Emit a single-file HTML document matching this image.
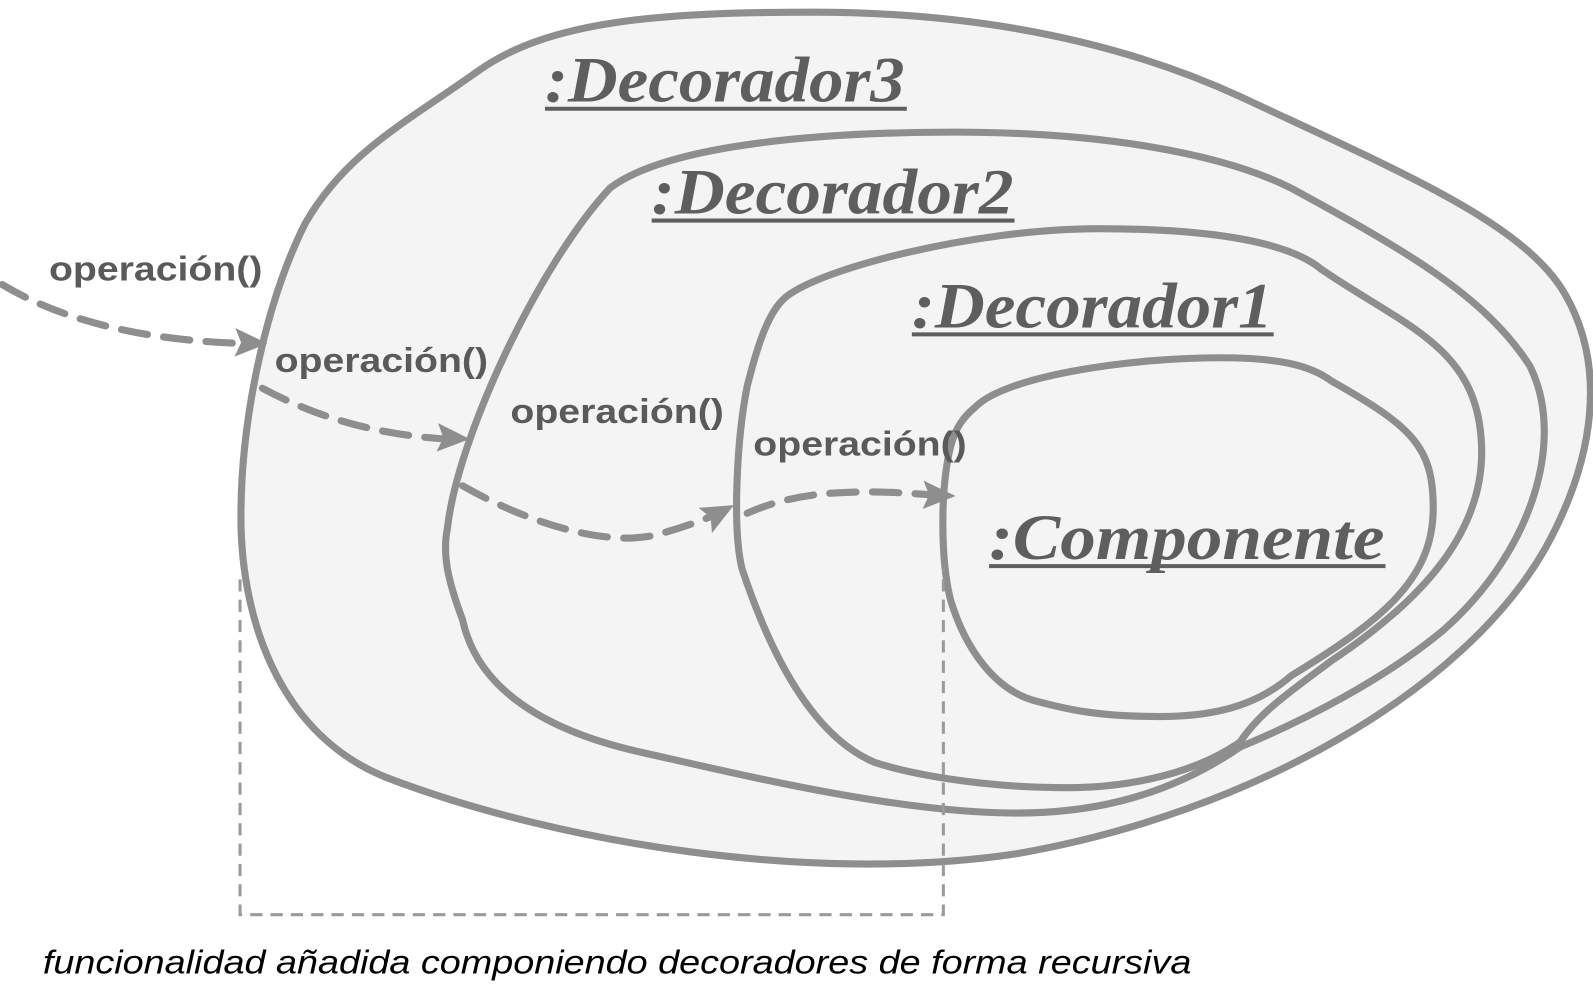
<!DOCTYPE html>
<html><head><meta charset="utf-8"><style>
html,body{margin:0;padding:0;background:#fff;width:1593px;height:995px;overflow:hidden}
svg{display:block}
.sh{fill:#f4f4f4;stroke:#8e8e8e;stroke-width:7}
.ar{fill:none;stroke:#8e8e8e;stroke-width:7;stroke-dasharray:26 16;stroke-linecap:round}
.lb{font-family:"Liberation Sans",sans-serif;font-size:34px;font-weight:bold;fill:#5a5a5a}
.tt{font-family:"Liberation Serif",serif;font-style:italic;font-weight:bold;font-size:64px;fill:#5e5e5e}
.ul{stroke:#5e5e5e;stroke-width:4}
.ah{fill:#8e8e8e}
</style></head><body>
<svg width="1593" height="995" viewBox="0 0 1567 979" xmlns="http://www.w3.org/2000/svg">
<path class="sh" d="M470,70 C540,20 650,12 800,12 C960,12 1100,40 1220,95 C1380,170 1500,220 1540,290 C1580,360 1570,450 1520,540 C1440,680 1230,800 1000,840 C800,870 550,830 380,765 C280,725 240,620 237,520 C235,420 260,300 300,220 C340,150 400,120 470,70 Z"/>
<path class="sh" d="M600,185 C660,140 820,130 940,130 C1080,130 1200,150 1270,185 C1380,245 1460,290 1505,360 C1540,430 1510,540 1420,620 C1360,670 1280,710 1220,735 C1140,790 1060,800 1000,800 C880,800 720,760 630,740 C540,720 470,680 455,610 C440,570 435,545 440,520 C450,430 530,260 600,185 Z"/>
<path class="sh" d="M770,295 C800,265 960,225 1080,225 C1200,225 1270,240 1300,265 C1380,320 1450,340 1457,430 C1465,520 1400,590 1310,650 C1270,680 1240,700 1220,730 C1170,765 1100,775 1050,775 C960,775 890,760 860,750 C790,720 750,620 730,560 C720,520 725,430 735,380 C745,340 755,310 770,295 Z"/>
<path class="sh" d="M960,400 C990,370 1110,352 1200,352 C1260,352 1290,360 1310,375 C1390,420 1410,440 1410,500 C1410,570 1360,610 1270,665 C1230,700 1180,705 1140,705 C1080,705 1050,698 1020,690 C980,680 950,640 935,590 C925,550 925,480 935,440 C940,420 948,410 960,400 Z"/>
<path d="M236,570 V900 H928 V560" fill="none" stroke="#9a9a9a" stroke-width="3" stroke-dasharray="12 8"/>
<path class="ar" d="M2,280 C60,315 140,335 240,338"/>
<path class="ar" d="M258,382 C310,410 370,428 440,432"/>
<path class="ar" d="M455,478 C520,515 600,540 650,525 C675,518 690,512 705,506"/>
<path class="ar" d="M735,505 C780,485 830,480 918,487"/>
<polygon class="ah" points="0,0 -32,-14 -26,0 -32,14" transform="translate(263,338) rotate(2)"/>
<polygon class="ah" points="0,0 -32,-14 -26,0 -32,14" transform="translate(462,432) rotate(3)"/>
<polygon class="ah" points="0,0 -32,-14 -26,0 -32,14" transform="translate(722,497) rotate(-28)"/>
<polygon class="ah" points="0,0 -32,-14 -26,0 -32,14" transform="translate(940,488) rotate(2)"/>
<text class="lb" x="48" y="276" textLength="210" lengthAdjust="spacingAndGlyphs">operación()</text>
<text class="lb" x="270" y="366" textLength="210" lengthAdjust="spacingAndGlyphs">operación()</text>
<text class="lb" x="502" y="416" textLength="210" lengthAdjust="spacingAndGlyphs">operación()</text>
<text class="lb" x="741" y="448" textLength="210" lengthAdjust="spacingAndGlyphs">operación()</text>
<text class="tt" x="536" y="100" textLength="354" lengthAdjust="spacingAndGlyphs">:Decorador3</text>
<line class="ul" x1="536" y1="107" x2="892" y2="107"/>
<text class="tt" x="641" y="210" textLength="356" lengthAdjust="spacingAndGlyphs">:Decorador2</text>
<line class="ul" x1="641" y1="217" x2="998" y2="217"/>
<text class="tt" x="897" y="322" textLength="355" lengthAdjust="spacingAndGlyphs">:Decorador1</text>
<line class="ul" x1="897" y1="329" x2="1253" y2="329"/>
<text class="tt" x="973" y="550" textLength="389" lengthAdjust="spacingAndGlyphs">:Componente</text>
<line class="ul" x1="973" y1="557" x2="1363" y2="557"/>
<text x="42" y="958" textLength="1130" lengthAdjust="spacingAndGlyphs" style="font-family:'Liberation Sans',sans-serif;font-style:italic;font-size:33px;fill:#000">funcionalidad añadida componiendo decoradores de forma recursiva</text>
</svg>
</body></html>
